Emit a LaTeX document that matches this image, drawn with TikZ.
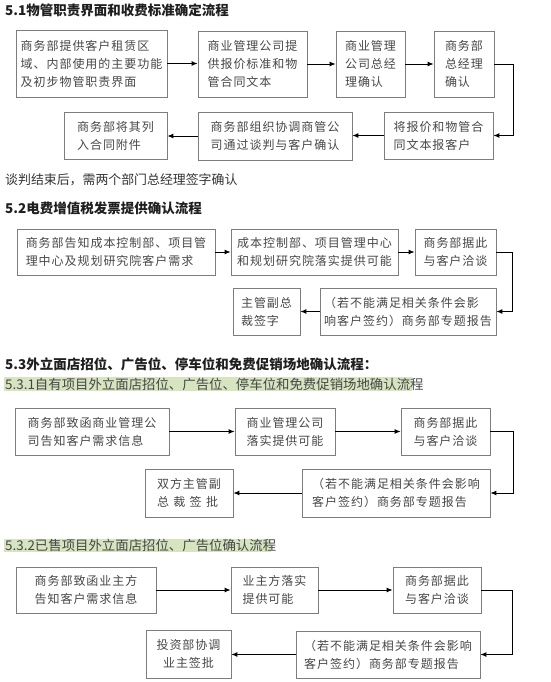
\documentclass[tikz,border=0pt]{standalone}
\usepackage{fontspec}
\setmainfont{Noto Sans CJK SC}
\usetikzlibrary{arrows.meta}
\definecolor{boxgray}{RGB}{125,125,125}
\definecolor{textgray}{RGB}{70,70,70}
\definecolor{litegreen}{RGB}{214,228,192}
\newcommand{\boxfont}{\fontsize{12}{18}\selectfont\addfontfeatures{LetterSpace=8}}
\newcommand{\headfont}{\fontsize{13.5}{15}\selectfont\bfseries}
\newcommand{\subfont}{\fontsize{13.4}{15}\selectfont}
\tikzstyle{box}=[draw=boxgray, line width=0.8pt, inner sep=0pt, text=textgray, align=left, font=\boxfont]
\tikzstyle{arr}=[line width=0.9pt, -{Latex[length=6pt,width=5pt]}]
\tikzstyle{head}=[anchor=west, inner sep=0pt, text=black!88, font=\headfont]

\begin{document}
\begin{tikzpicture}[x=1pt, y=-1pt]
    \useasboundingbox (0,0) rectangle (550,682);
    % 5.1
    \node[head] (h1) at (5,10) {5.1物管职责界面和收费标准确定流程};
    \node[box, minimum width=151pt, minimum height=67pt] (p1) at (91.5,63.5) {商务部提供客户租赁区\\域、内部使用的主要功能\\及初步物管职责界面};
    \node[box, minimum width=109pt, minimum height=66pt] (p2) at (252.5,64) {商业管理公司提\\供报价标准和物\\管合同文本};
    \node[box, minimum width=69pt, minimum height=66pt] (p3) at (370.5,64) {商业管理\\公司总经\\理确认};
    \node[box, minimum width=60pt, minimum height=66pt] (p4) at (464,64) {商务部\\总经理\\确认};
    \node[box, minimum width=109pt, minimum height=47pt] (p5) at (438.5,135.5) {将报价和物管合\\同文本报客户};
    \node[box, minimum width=154pt, minimum height=48pt] (p6) at (275,136) {商务部组织协调商管公\\司通过谈判与客户确认};
    \node[box, minimum width=103pt, minimum height=47pt] (p7) at (115.5,135.5) {商务部将其列\\入合同附件};
    \coordinate (c1) at (513,0);
    \draw[arr] (p1.east) -- (p1.east -| p2.west);
    \draw[arr] (p2.east) -- (p2.east -| p3.west);
    \draw[arr] (p3.east) -- (p3.east -| p4.west);
    \draw[arr] (p4.east) -- (p4.east -| c1) |- (p5.east);
    \draw[arr] (p5.west) -- (p5.west -| p6.east);
    \draw[arr] (p6.west) -- (p6.west -| p7.east);
    \node[anchor=west, inner sep=0pt, text=black!80, font=\fontsize{12.9}{15}\selectfont] (n1) at (5,180) {谈判结束后，需两个部门总经理签字确认};
    % 5.2
    \node[head] (h2) at (5,208) {5.2电费增值税发票提供确认流程};
    \node[box, minimum width=198pt, minimum height=46pt] (q1) at (116,252) {商务部告知成本控制部、项目管\\理中心及规划研究院客户需求};
    \node[box, minimum width=167pt, minimum height=46pt] (q2) at (314.5,252) {成本控制部、项目管理中心\\和规划研究院落实提供可能};
    \node[box, minimum width=81pt, minimum height=46pt] (q3) at (455.5,252) {商务部据此\\与客户洽谈};
    \node[box, minimum width=176pt, minimum height=47pt] (q4) at (408,311.5) {（若不能满足相关条件会影\\响客户签约）商务部专题报告};
    \node[box, minimum width=67pt, minimum height=47pt] (q5) at (266.5,312) {主管副总\\裁签字};
    \coordinate (c2) at (512,0);
    \draw[arr] (q1.east) -- (q1.east -| q2.west);
    \draw[arr] (q2.east) -- (q2.east -| q3.west);
    \draw[arr] (q3.east) -- (q3.east -| c2) |- (q4.east);
    \draw[arr] (q4.west) -- (q4.west -| q5.east);
    % 5.3
    \node[head] (h3) at (5,364) {5.3外立面店招位、广告位、停车位和免费促销场地确认流程：};
    \fill[litegreen] (4,377) rectangle (412,391);
    \node[anchor=west, inner sep=0pt, text=textgray, font=\subfont] (h4) at (5,384) {5.3.1自有项目外立面店招位、广告位、停车位和免费促销场地确认流程};
    \node[box, minimum width=154pt, minimum height=47pt] (s1) at (92,431.5) {商务部致函商业管理公\\司告知客户需求信息};
    \node[box, minimum width=100pt, minimum height=47pt] (s2) at (285,431.5) {商业管理公司\\落实提供可能};
    \node[box, minimum width=89pt, minimum height=47pt] (s3) at (445.5,431.5) {商务部据此\\与客户洽谈};
    \node[box, minimum width=188pt, minimum height=48pt] (s4) at (396,493) {（若不能满足相关条件会影响\\客户签约）商务部专题报告};
    \node[box, minimum width=88pt, minimum height=48pt] (s5) at (189,493) {双方主管副\\总\hspace{.36em}裁\hspace{.36em}签\hspace{.36em}批};
    \coordinate (c3) at (513,0);
    \draw[arr] (s1.east) -- (s1.east -| s2.west);
    \draw[arr] (s2.east) -- (s2.east -| s3.west);
    \draw[arr] (s3.east) -- (s3.east -| c3) |- (s4.east);
    \draw[arr] (s4.west) -- (s4.west -| s5.east);
    % 5.3.2
    \fill[litegreen] (4,539) rectangle (271,552);
    \node[anchor=west, inner sep=0pt, text=textgray, font=\subfont] (h5) at (5,545.5) {5.3.2已售项目外立面店招位、广告位确认流程};
    \node[box, align=center, minimum width=140pt, minimum height=46pt] (t1) at (86,590) {商务部致函业主方\\告知客户需求信息};
    \node[box, minimum width=87pt, minimum height=46pt] (t2) at (274.5,590) {业主方落实\\提供可能};
    \node[box, minimum width=88pt, minimum height=46pt] (t3) at (437,590) {商务部据此\\与客户洽谈};
    \node[box, minimum width=184pt, minimum height=47pt] (t4) at (388,654.5) {（若不能满足相关条件会影响\\客户签约）商务部专题报告};
    \node[box, align=center, minimum width=85pt, minimum height=48pt] (t5) at (188.5,654) {投资部协调\\业主签批};
    \coordinate (c4) at (512,0);
    \draw[arr] (t1.east) -- (t1.east -| t2.west);
    \draw[arr] (t2.east) -- (t2.east -| t3.west);
    \draw[arr] (t3.east) -- (t3.east -| c4) |- (t4.east);
    \draw[arr] (t4.west) -- (t4.west -| t5.east);
\end{tikzpicture}
\end{document}
